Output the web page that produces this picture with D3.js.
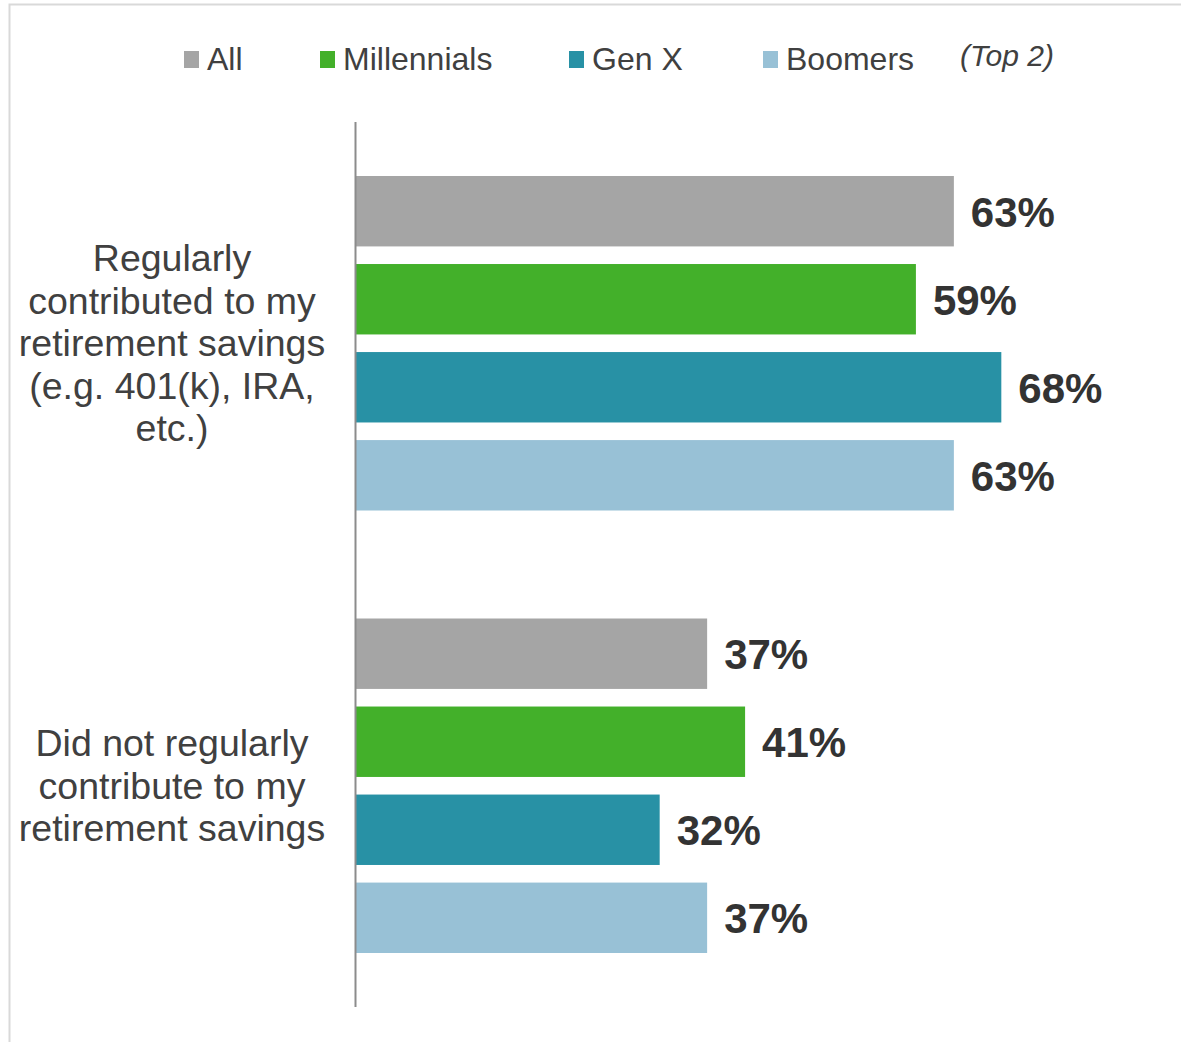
<!DOCTYPE html>
<html>
<head>
<meta charset="utf-8">
<script src="https://cdn.jsdelivr.net/npm/d3@7"></script>
<style>
  html, body { margin: 0; padding: 0; background: #fff; }
  svg { display: block; font-family: "Liberation Sans", Arial, sans-serif; }
</style>
</head>
<body>
<svg id="chart" width="1181" height="1042"></svg>
<script>
// Survey categories (each line of a label is a separate entry)
const categories = [
  ["Regularly", "contributed to my", "retirement savings", "(e.g. 401(k), IRA,", "etc.)"],
  ["Did not regularly", "contribute to my", "retirement savings"]
];
const seriesNames = ["All", "Millennials", "Gen X", "Boomers"];
const seriesColors = ["#a5a5a5", "#43b02a", "#2891a5", "#98c1d6"];
// Percent values per series, in category order
const allValues = [63, 37];
const millennialValues = [59, 41];
const genXValues = [68, 32];
const boomerValues = [63, 37];
const legendNote = "(Top 2)";

const seriesValues = [allValues, millennialValues, genXValues, boomerValues];

const svg = d3.select("#chart");

// Outer frame
svg.append("rect")
  .attr("x", 9.5).attr("y", 4.5)
  .attr("width", 1200).attr("height", 1100)
  .attr("fill", "none")
  .attr("stroke", "#d9d9d9")
  .attr("stroke-width", 2);

const x = d3.scaleLinear().domain([0, 100]).range([356, 1305]);
const y0 = d3.scaleBand().domain(d3.range(categories.length)).range([122, 1007]).padding(0);
const y1 = d3.scaleBand().domain(d3.range(seriesNames.length))
  .range([54, y0.bandwidth() - 54]).paddingInner(0.2).paddingOuter(0);

const groups = svg.append("g").selectAll("g")
  .data(categories)
  .join("g")
  .attr("transform", (d, i) => `translate(0,${y0(i)})`);

groups.each(function(cat, ci) {
  const g = d3.select(this);
  const rows = seriesNames.map((s, si) => ({ s, si, v: seriesValues[si][ci] }));
  g.selectAll("rect.bar")
    .data(rows)
    .join("rect")
    .attr("class", "bar")
    .attr("x", x(0))
    .attr("y", d => y1(d.si))
    .attr("width", d => x(d.v) - x(0))
    .attr("height", y1.bandwidth())
    .attr("fill", d => seriesColors[d.si]);

  g.selectAll("text.val")
    .data(rows)
    .join("text")
    .attr("class", "val")
    .attr("x", d => x(d.v) + 17)
    .attr("y", d => y1(d.si) + y1.bandwidth() / 2)
    .attr("dy", "0.37em")
    .attr("fill", "#333333")
    .attr("font-size", 42)
    .attr("font-weight", "bold")
    .text(d => d.v + "%");

  // Category label, centred on the group
  const lh = 42.5;
  const mid = y0.bandwidth() / 2;
  const t = g.append("text")
    .attr("text-anchor", "middle")
    .attr("fill", "#404040")
    .attr("font-size", 37.5);
  cat.forEach((line, li) => {
    t.append("tspan")
      .attr("x", 172)
      .attr("y", mid + 13 + (li - (cat.length - 1) / 2) * lh)
      .text(line);
  });
});

// Category axis line
svg.append("line")
  .attr("x1", 355.5).attr("x2", 355.5)
  .attr("y1", y0.range()[0]).attr("y2", y0.range()[1])
  .attr("stroke", "#8c8c8c")
  .attr("stroke-width", 2);

// Legend
const legendX = [184, 320, 569, 763];
const legend = svg.append("g").selectAll("g")
  .data(seriesNames)
  .join("g")
  .attr("transform", (d, i) => `translate(${legendX[i]},0)`);
legend.append("rect")
  .attr("x", 0).attr("y", 51)
  .attr("width", 15).attr("height", 17)
  .attr("fill", (d, i) => seriesColors[i]);
legend.append("text")
  .attr("x", 23).attr("y", 70)
  .attr("fill", "#404040")
  .attr("font-size", 32)
  .text(d => d);

svg.append("text")
  .attr("x", 960).attr("y", 66)
  .attr("fill", "#404040")
  .attr("font-size", 30)
  .attr("font-style", "italic")
  .text(legendNote);
</script>
</body>
</html>
